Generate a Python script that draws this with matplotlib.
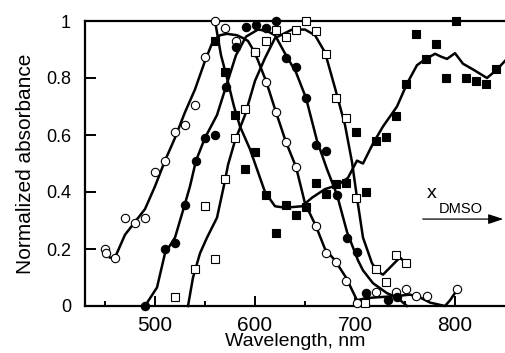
import matplotlib
matplotlib.use("Agg")
import matplotlib.pyplot as plt

plt.rcParams['font.family'] = ['Liberation Sans', 'DejaVu Sans']

# open circles
oc_x = [450, 451, 460, 470, 480, 490, 500, 510, 520, 530, 540, 550, 560, 570, 581, 600,
        611, 621, 631, 641, 661, 671, 681, 691, 702, 721, 741, 751, 761, 772, 802]
oc_y = [0.20, 0.185, 0.17, 0.31, 0.29, 0.31, 0.47, 0.51, 0.61, 0.635, 0.705, 0.874, 1.0, 0.975, 0.93, 0.89,
        0.786, 0.68, 0.575, 0.488, 0.28, 0.186, 0.155, 0.088, 0.01, 0.05, 0.05, 0.06, 0.035, 0.035, 0.06]
oc_cx = [455, 460, 465, 470, 480, 490, 500, 510, 520, 530, 540, 550, 558, 565, 572, 582, 588, 593, 598,
         602, 611, 621, 631, 641, 650, 661, 670, 680, 691, 702, 710, 720, 742, 755, 765, 775, 790, 795, 802]
oc_cy = [0.17, 0.17, 0.21, 0.25, 0.295, 0.34, 0.42, 0.51, 0.59, 0.68, 0.76, 0.86, 0.93, 0.95, 0.955, 0.95,
         0.94, 0.93, 0.90, 0.87, 0.79, 0.68, 0.575, 0.488, 0.36, 0.28, 0.20, 0.16, 0.10, 0.02, 0.027, 0.03,
         0.035, 0.04, 0.03, 0.012, 0.0, 0.02, 0.056]

# filled circles
fc_x = [490, 510, 520, 530, 541, 550, 560, 571, 581, 591, 601, 611, 621, 631, 641, 651, 661, 671,
        682, 692, 702, 711, 733, 742]
fc_y = [0.0, 0.20, 0.22, 0.354, 0.51, 0.59, 0.60, 0.77, 0.91, 0.98, 0.985, 0.975, 1.0, 0.87, 0.84,
        0.73, 0.565, 0.545, 0.39, 0.24, 0.19, 0.045, 0.02, 0.03]
fc_cx = [490, 502, 510, 520, 528, 535, 541, 550, 562, 571, 581, 591, 603, 612, 620, 631, 641, 651,
         662, 672, 682, 692, 703, 708, 718, 732, 742, 752]
fc_cy = [0.0, 0.065, 0.185, 0.24, 0.335, 0.42, 0.51, 0.59, 0.67, 0.77, 0.88, 0.945, 0.97, 0.965, 0.95,
         0.88, 0.82, 0.73, 0.58, 0.48, 0.39, 0.26, 0.16, 0.125, 0.08, 0.045, 0.03, 0.0]

# open squares
os_x = [520, 540, 550, 560, 570, 580, 590, 600, 611, 621, 631, 641, 651, 661, 671, 681, 691, 701,
        710, 721, 731, 741, 751]
os_y = [0.03, 0.13, 0.35, 0.165, 0.445, 0.59, 0.69, 0.89, 0.93, 0.97, 0.945, 0.97, 1.0, 0.965, 0.885,
        0.73, 0.66, 0.38, 0.01, 0.13, 0.085, 0.18, 0.15]
os_cx = [533, 538, 545, 552, 562, 570, 573, 580, 590, 600, 610, 620, 637, 650, 660, 670, 680, 690,
         697, 702, 708, 717, 723, 728, 742, 745, 751]
os_cy = [0.0, 0.10, 0.185, 0.24, 0.31, 0.44, 0.495, 0.58, 0.67, 0.79, 0.87, 0.94, 0.97, 0.97, 0.95,
         0.89, 0.765, 0.635, 0.505, 0.38, 0.24, 0.15, 0.12, 0.11, 0.16, 0.17, 0.15]

# filled squares
fs_x = [560, 570, 580, 590, 600, 611, 621, 631, 641, 651, 661, 671, 681, 691, 701, 711, 721, 731,
        741, 751, 761, 771, 781, 791, 801, 811, 821, 831, 841]
fs_y = [0.93, 0.82, 0.67, 0.48, 0.54, 0.39, 0.256, 0.355, 0.32, 0.347, 0.43, 0.393, 0.428, 0.432,
        0.61, 0.40, 0.58, 0.593, 0.667, 0.78, 0.955, 0.866, 0.92, 0.80, 1.0, 0.80, 0.79, 0.78, 0.83]
fs_cx = [560, 566, 572, 579, 585, 595, 600, 605, 610, 620, 630, 647, 657, 670, 683, 693, 702, 708,
         718, 728, 742, 752, 762, 770, 780, 786, 792, 800, 808, 818, 832, 842, 850]
fs_cy = [1.0, 0.88, 0.80, 0.70, 0.63, 0.55, 0.50, 0.45, 0.40, 0.35, 0.345, 0.35, 0.38, 0.41, 0.425,
         0.45, 0.51, 0.50, 0.57, 0.63, 0.70, 0.78, 0.845, 0.865, 0.885, 0.875, 0.867, 0.887, 0.85,
         0.83, 0.80, 0.83, 0.86]

fig = plt.figure(figsize=(5.05, 3.53), dpi=100)
ax = fig.add_axes([85 / 505, 1 - 306 / 353, 420 / 505, 285 / 353])

lw = 1.8
for cx, cy in [(oc_cx, oc_cy), (fc_cx, fc_cy), (os_cx, os_cy), (fs_cx, fs_cy)]:
    ax.plot(cx, cy, color='black', lw=lw, clip_on=False, zorder=2)

mk = dict(linestyle='none', markersize=6, markeredgewidth=0.8, markeredgecolor='black',
          clip_on=False, zorder=3)
ax.plot(oc_x, oc_y, marker='o', markerfacecolor='white', **mk)
ax.plot(fc_x, fc_y, marker='o', markerfacecolor='black', **mk)
ax.plot(os_x, os_y, marker='s', markerfacecolor='white', **mk)
ax.plot(fs_x, fs_y, marker='s', markerfacecolor='black', **mk)

ax.set_xlim(430, 850)
ax.set_ylim(0, 1)
ax.spines['right'].set_visible(False)
for s in ['left', 'bottom', 'top']:
    ax.spines[s].set_linewidth(1.6)

ax.set_xticks([500, 600, 700, 800])
ax.set_xticks([450, 550, 650, 750], minor=True)
ax.set_yticks([0, 0.2, 0.4, 0.6, 0.8, 1.0])
ax.set_yticklabels(['0', '0.2', '0.4', '0.6', '0.8', '1'])
ax.tick_params(axis='x', which='major', direction='in', length=7, width=1.4, labelsize=15, pad=7)
ax.tick_params(axis='x', which='minor', direction='in', length=3.5, width=1.4)
ax.tick_params(axis='y', which='major', direction='in', length=8, width=1.4, labelsize=13, pad=10)
ax.tick_params(top=False, right=False)

ax.set_ylabel('Normalized absorbance', fontsize=15, labelpad=8)
ax.set_xlabel('Wavelength, nm', fontsize=14, labelpad=-1)

ax.text(777, 0.379, 'x', fontsize=14, ha='center', va='baseline')
ax.text(806, 0.326, 'DMSO', fontsize=10.5, ha='center', va='baseline')
ax.annotate('', xy=(851, 0.305), xytext=(765, 0.305),
            arrowprops=dict(arrowstyle='-|>,head_length=0.9,head_width=0.3', color='black', lw=0.9),
            annotation_clip=False)

fig.savefig('out.png', dpi=100)
